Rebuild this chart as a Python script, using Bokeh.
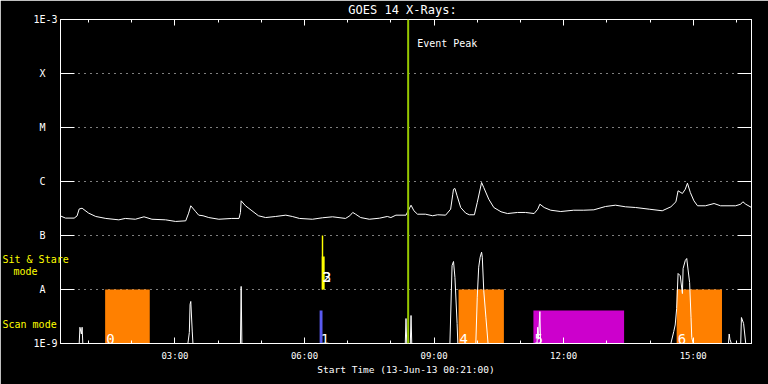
import pandas as pd
from bokeh.plotting import figure
from bokeh.models import (Range1d, FixedTicker, DatetimeTickFormatter, CustomJSTickFormatter,
                          LogAxis, DatetimeAxis, Label, Span, ColumnDataSource)
from bokeh.core.properties import value
from bokeh.embed import file_html
from bokeh.resources import INLINE

DAY = "2013-06-13"
START, END = "00:21", "16:21"
EVENT_PEAK = "08:24"

# GOES 14 X-ray flux (W/m^2)
goes = [("00:21", 2.3e-7), ("00:28", 2.1e-7), ("00:40", 2.1e-7), ("00:44", 2.3e-7), ("00:47", 3.1e-7),
        ("00:51", 3.2e-7), ("01:00", 2.6e-7), ("01:10", 2.25e-7), ("01:24", 2.07e-7), ("01:42", 1.95e-7),
        ("01:51", 2.07e-7), ("02:05", 2.0e-7), ("02:17", 2.22e-7), ("02:28", 2.0e-7), ("02:47", 1.95e-7),
        ("03:01", 1.82e-7), ("03:15", 1.87e-7), ("03:19", 2.59e-7), ("03:22", 3.55e-7), ("03:29", 2.75e-7),
        ("03:33", 2.38e-7), ("03:39", 2.32e-7), ("03:47", 2.15e-7), ("04:01", 2.0e-7), ("04:19", 2.07e-7),
        ("04:29", 2.07e-7), ("04:31", 2.67e-7), ("04:32", 4.39e-7), ("04:38", 3.55e-7), ("04:47", 2.87e-7),
        ("04:56", 2.32e-7), ("05:06", 2.15e-7), ("05:20", 2.25e-7), ("05:34", 2.38e-7), ("05:43", 2.25e-7),
        ("05:53", 2.07e-7), ("06:11", 2.0e-7), ("06:25", 2.13e-7), ("06:39", 2.22e-7), ("06:57", 2.07e-7),
        ("07:03", 2.32e-7), ("07:07", 2.67e-7), ("07:11", 2.48e-7), ("07:18", 2.15e-7), ("07:30", 2.0e-7),
        ("07:44", 2.09e-7), ("07:55", 2.25e-7), ("08:00", 2.15e-7), ("08:07", 2.38e-7), ("08:21", 2.38e-7),
        ("08:24", 2.87e-7), ("08:28", 3.64e-7), ("08:32", 2.87e-7), ("08:37", 2.48e-7), ("08:48", 2.48e-7),
        ("08:58", 2.32e-7), ("09:05", 2.42e-7), ("09:16", 2.38e-7), ("09:23", 3.07e-7), ("09:26", 5.82e-7),
        ("09:27", 7.19e-7), ("09:29", 7.42e-7), ("09:32", 5.43e-7), ("09:37", 3.3e-7), ("09:44", 2.59e-7),
        ("09:49", 2.42e-7), ("09:56", 2.42e-7), ("10:00", 4.08e-7), ("10:06", 9.58e-7), ("10:09", 7.74e-7),
        ("10:16", 4.7e-7), ("10:23", 3.3e-7), ("10:33", 2.75e-7), ("10:42", 2.55e-7), ("10:56", 2.67e-7),
        ("11:07", 2.67e-7), ("11:19", 2.55e-7), ("11:24", 3.07e-7), ("11:27", 3.8e-7), ("11:33", 3.3e-7),
        ("11:42", 2.94e-7), ("11:56", 2.78e-7), ("12:14", 2.94e-7), ("12:28", 2.94e-7), ("12:42", 2.99e-7),
        ("12:58", 3.44e-7), ("13:12", 3.64e-7), ("13:26", 3.4e-7), ("13:40", 3.3e-7), ("13:59", 3.07e-7),
        ("14:17", 2.87e-7), ("14:29", 3.4e-7), ("14:36", 4.21e-7), ("14:39", 6.73e-7), ("14:45", 6.0e-7),
        ("14:49", 7.19e-7), ("14:52", 9.3e-7), ("14:56", 6.26e-7), ("15:01", 4.39e-7), ("15:06", 3.55e-7),
        ("15:17", 3.55e-7), ("15:29", 3.91e-7), ("15:38", 3.55e-7), ("15:59", 3.55e-7), ("16:06", 3.8e-7),
        ("16:09", 4.21e-7), ("16:13", 3.8e-7), ("16:21", 3.3e-7)]

# lower spiky trace (flux derivative), floor at 1E-9
spikes = [("00:21", 1e-9), ("00:47", 1e-9), ("00:48", 2.0e-9), ("00:50", 1.5e-9), ("00:51", 2.0e-9), ("00:52", 1e-9),
          ("03:18", 1e-9), ("03:20", 1.6e-9), ("03:21", 5.3e-9), ("03:22", 6.0e-9), ("03:24", 1.7e-9), ("03:25", 1e-9),
          ("04:31", 1e-9), ("04:32", 1.14e-8), ("04:33", 1e-9),
          ("08:20", 1e-9), ("08:21", 2.9e-9), ("08:22", 1e-9), ("08:27", 1e-9), ("08:28", 3.3e-9), ("08:29", 1e-9),
          ("09:22", 1e-9), ("09:25", 2.78e-8), ("09:27", 3.3e-8), ("09:29", 1.67e-8), ("09:32", 2.35e-9), ("09:33", 1e-9),
          ("09:58", 1e-9), ("10:00", 7.2e-9), ("10:02", 2.59e-8), ("10:04", 3.96e-8), ("10:06", 4.91e-8),
          ("10:07", 3.96e-8), ("10:09", 9.6e-9), ("10:12", 3.07e-9), ("10:15", 1e-9),
          ("11:23", 1e-9), ("11:24", 2.0e-9), ("11:25", 1.2e-9), ("11:27", 3.9e-9), ("11:28", 1e-9),
          ("14:29", 1e-9), ("14:33", 1.67e-9), ("14:35", 2.2e-9), ("14:37", 4.45e-9), ("14:39", 1.98e-8),
          ("14:42", 1.8e-8), ("14:45", 8.4e-9), ("14:46", 2.45e-8), ("14:49", 3.44e-8), ("14:51", 3.75e-8),
          ("14:55", 1.35e-8), ("14:57", 3.0e-9), ("14:58", 1.29e-9), ("15:00", 1e-9),
          ("15:49", 1e-9), ("15:50", 1.5e-9), ("15:51", 1.2e-9), ("15:53", 1e-9),
          ("16:06", 1e-9), ("16:07", 3.03e-9), ("16:10", 2.35e-9), ("16:13", 1e-9), ("16:21", 1e-9)]

# observation blocks
obs_label = ["0", "1", "2", "3", "4", "5", "6"]
obs_start = ["01:23", "06:21", "06:24", "06:24", "09:34", "11:18", "14:37"]
obs_end = ["02:25", "06:25", "06:26", "06:28", "10:37", "13:24", "15:40"]
obs_low = [1e-9, 1e-9, 1e-8, 1e-8, 1e-9, 1e-9, 1e-9]
obs_high = [1e-8, 4.1e-9, 1e-7, 4.1e-8, 1e-8, 4.1e-9, 1e-8]
obs_label_y = [1.2e-9, 1.2e-9, 1.67e-8, 1.67e-8, 1.2e-9, 1.2e-9, 1.2e-9]
obs_color = ["#FF8000", "#5A5AF0", "#FFFF00", "#FFFF00", "#FF8000", "#CC00CC", "#FF8000"]

# mode captions (left margin), anchored on the flux band they describe
mode_text = ["Sit & Stare", "Scan mode"]
mode_y = [3.67e-8, 2.25e-9]
MODE_SUB = "mode"

# axis ticks
class_ticks = [1e-9, 1e-8, 1e-7, 1e-6, 1e-5, 1e-4, 1e-3]
class_labels = ["1E-9", "A", "B", "C", "M", "X", "1E-3"]
grid_ticks = [1e-8, 1e-7, 1e-6, 1e-5, 1e-4]
major_hours = ["03:00", "06:00", "09:00", "12:00", "15:00"]
minor_hours = ["01:00", "02:00", "04:00", "05:00", "07:00", "08:00", "10:00", "11:00",
               "13:00", "14:00", "16:00"]

TITLE = "GOES 14 X-Rays:"
XLABEL = "Start Time (13-Jun-13 00:21:00)"


def t(hhmm):
    return pd.Timestamp(f"{DAY} {hhmm}")


def ms(hhmm):
    return t(hhmm).value / 1e6


MONO = "DejaVu Sans Mono"
W, H = 768, 384

p = figure(width=W, height=H, x_axis_type="datetime", y_axis_type="log",
           x_range=Range1d(t(START), t(END)), y_range=Range1d(1e-9, 1e-3),
           output_backend="svg", toolbar_location=None, title=None,
           background_fill_color="black", border_fill_color="black",
           outline_line_color="white", outline_line_width=1,
           min_border_left=60, min_border_right=17, min_border_top=19, min_border_bottom=41)

x_ticker = FixedTicker(ticks=[ms(h) for h in major_hours], minor_ticks=[ms(h) for h in minor_hours])
y_ticker = FixedTicker(ticks=class_ticks, minor_ticks=[])

fmt_hm = DatetimeTickFormatter(hours="%H:%M", hourmin="%H:%M", minutes="%H:%M",
                               minsec="%H:%M", days="%H:%M", seconds="%H:%M")

xa = p.xaxis[0]
xa.ticker = x_ticker
xa.formatter = fmt_hm
xa.axis_line_color = "white"
xa.major_tick_line_color = "white"
xa.minor_tick_line_color = "white"
xa.major_tick_in, xa.major_tick_out = 6, 0
xa.minor_tick_in, xa.minor_tick_out = 3, 0
xa.major_label_text_color = "white"
xa.major_label_text_font = MONO
xa.major_label_text_font_size = "9px"
xa.major_label_standoff = 7
xa.axis_label = XLABEL
xa.axis_label_text_color = "white"
xa.axis_label_text_font = MONO
xa.axis_label_text_font_size = "9.5px"
xa.axis_label_text_font_style = "normal"
xa.axis_label_standoff = 0

ya = p.yaxis[0]
ya.ticker = y_ticker
ya.formatter = CustomJSTickFormatter(args=dict(labels=class_labels), code=r"""
const i = Math.round(Math.log10(tick)) + 9;
const s = labels[i];
return s.length == 1 ? s + "\u00a0\u00a0" : s;
""")
ya.axis_line_color = "white"
ya.major_tick_line_color = "white"
ya.minor_tick_line_color = None
ya.major_tick_in, ya.major_tick_out = 14, 0
ya.major_label_text_color = "white"
ya.major_label_text_font = MONO
ya.major_label_text_font_size = "10px"
ya.major_label_standoff = 3

blank = CustomJSTickFormatter(code="return '';")
top = DatetimeAxis(ticker=x_ticker, formatter=blank, axis_line_color="white",
                   major_tick_line_color="white", minor_tick_line_color="white",
                   major_tick_in=6, major_tick_out=0, minor_tick_in=3, minor_tick_out=0,
                   major_label_text_font_size="1px", major_label_text_color=None,
                   major_label_standoff=0)
p.add_layout(top, "above")
right = LogAxis(ticker=y_ticker, formatter=blank, axis_line_color="white",
                major_tick_line_color="white", minor_tick_line_color=None,
                major_tick_in=14, major_tick_out=0,
                major_label_text_font_size="1px", major_label_text_color=None,
                major_label_standoff=0)
p.add_layout(right, "right")

p.xgrid.grid_line_color = None
p.ygrid.ticker = FixedTicker(ticks=grid_ticks)
p.ygrid.grid_line_color = "white"
p.ygrid.grid_line_dash = "1 5"
p.ygrid.grid_line_width = 1

obs = ColumnDataSource(dict(left=[t(s) for s in obs_start], right=[t(s) for s in obs_end],
                            bottom=obs_low, top=obs_high, color=obs_color,
                            label=obs_label, ly=obs_label_y))
p.quad(left="left", right="right", bottom="bottom", top="top", fill_color="color",
       line_color=None, source=obs)

p.line([t(a) for a, _ in spikes], [b for _, b in spikes], line_color="white", line_width=1)
p.line([t(a) for a, _ in goes], [b for _, b in goes], line_color="white", line_width=1)

p.text(x="left", y="ly", text="label", source=obs, x_offset=1, text_color="white",
       text_font=value(MONO), text_font_size="14px", text_baseline="alphabetic")

# captions in the left margin: text glyph anchored at the frame's left edge, drawn at overlay level
p.text(x=[t(START)] * len(mode_text), y=mode_y, text=mode_text, x_offset=-58,
       text_color="#FFFF00", text_font=value(MONO), text_font_size="10px",
       text_baseline="middle", text_align="left", level="overlay")

p.add_layout(Span(location=ms(EVENT_PEAK), dimension="height", line_color="#96C800", line_width=2))
p.add_layout(Label(x=ms(EVENT_PEAK), y=3.6e-4, x_offset=9, text="Event Peak", text_color="white",
                   text_font=MONO, text_font_size="10px", text_baseline="middle"))

# title in the top border (x from frame left, y up from the label slot bottom)
p.add_layout(Label(x=342, y=10, x_units="screen", y_units="screen", text=TITLE, text_color="white",
                   text_font=MONO, text_font_size="12px", text_align="center",
                   text_baseline="middle"), "above")
# second line of the Sit & Stare caption in the left border
p.add_layout(Label(x=7, y=72, x_units="screen", y_units="screen", text=MODE_SUB,
                   text_color="#FFFF00", text_font=MONO, text_font_size="10px",
                   text_align="left", text_baseline="middle"), "left")

open("out.html", "w").write(file_html(p, INLINE))
